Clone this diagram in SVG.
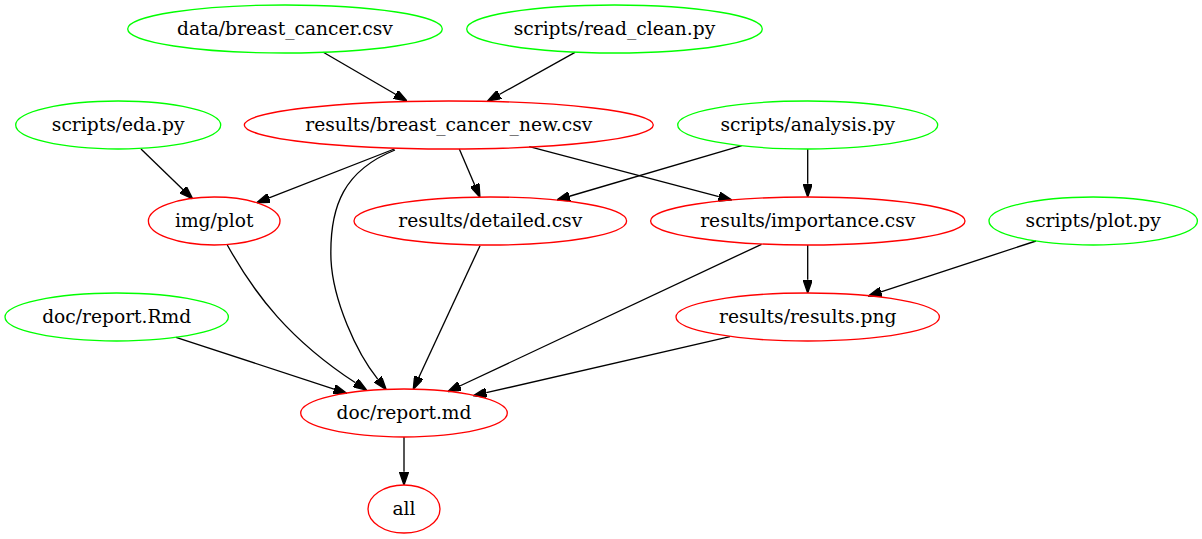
<svg xmlns="http://www.w3.org/2000/svg" width="1202" height="539" viewBox="0 0 1202 539">
<style>
.src ellipse{fill:none;stroke:#00ff00;stroke-width:1.33}
.tgt ellipse{fill:none;stroke:#ff0000;stroke-width:1.33}
text{font-family:"DejaVu Serif","Liberation Serif",serif;font-size:18.67px;fill:#000;text-anchor:middle}
#edges path{fill:none;stroke:#000;stroke-width:1.33;marker-end:url(#ah)}
</style>
<defs>
<marker id="ah" viewBox="0 0 10 7" refX="0" refY="3.5" markerWidth="13.33" markerHeight="9.33" markerUnits="userSpaceOnUse" orient="auto">
<path d="M0,0 L10,3.5 L0,7 z" fill="#000" stroke="#000" stroke-width="1"/>
</marker>
</defs>
<rect width="1202" height="539" fill="#fff"/>
<g id="edges">
<path d="M323.3,52.3 L395.5,94.3"/>
<path d="M575,52.3 L499.3,94.5"/>
<path d="M141,149 L183.1,189.7"/>
<path d="M394.3,149 L269.1,197.9"/>
<path d="M459.3,149 L474.7,185"/>
<path d="M529.3,146.7 L718.8,196.6"/>
<path d="M741.7,145.7 L569.5,196.25"/>
<path d="M807.7,149 L807.7,183.7"/>
<path d="M807.7,245 L807.7,279.7"/>
<path d="M1036,241 L881,291.85"/>
<path d="M176,337.3 L334,389.1"/>
<path d="M480,245.7 L418.9,377.2"/>
<path d="M761.5,244.3 L459.8,386"/>
<path d="M730,336.7 L486.3,392.7"/>
<path d="M404,437 L404,471.7"/>
<path d="M227.3,245 C255,295 290,340 355.5,382.8"/>
<path d="M395,150 C345,170 329,205 331,260 C333,300 356,352 377.9,379.3"/>
</g>
<g id="n_data" class="src"><ellipse cx="285" cy="29" rx="157.3" ry="24"/><text x="285" y="34.6">data/breast_cancer.csv</text></g>
<g id="n_readclean" class="src"><ellipse cx="614.5" cy="29" rx="147.8" ry="24"/><text x="614.5" y="34.6">scripts/read_clean.py</text></g>
<g id="n_eda" class="src"><ellipse cx="118.2" cy="125" rx="102.5" ry="24"/><text x="118.2" y="130.6">scripts/eda.py</text></g>
<g id="n_bcn" class="tgt"><ellipse cx="448.8" cy="125" rx="204.5" ry="24"/><text x="448.8" y="130.6">results/breast_cancer_new.csv</text></g>
<g id="n_analysis" class="src"><ellipse cx="807.7" cy="125" rx="130" ry="24"/><text x="807.7" y="130.6">scripts/analysis.py</text></g>
<g id="n_img" class="tgt"><ellipse cx="214.2" cy="221" rx="65.8" ry="24"/><text x="214.2" y="226.6">img/plot</text></g>
<g id="n_detailed" class="tgt"><ellipse cx="490.3" cy="221" rx="136.3" ry="24"/><text x="490.3" y="226.6">results/detailed.csv</text></g>
<g id="n_importance" class="tgt"><ellipse cx="807.8" cy="221" rx="157.2" ry="24"/><text x="807.8" y="226.6">results/importance.csv</text></g>
<g id="n_plotpy" class="src"><ellipse cx="1093.2" cy="221" rx="104.2" ry="24"/><text x="1093.2" y="226.6">scripts/plot.py</text></g>
<g id="n_rmd" class="src"><ellipse cx="116.7" cy="317" rx="111.7" ry="24"/><text x="116.7" y="322.6">doc/report.Rmd</text></g>
<g id="n_png" class="tgt"><ellipse cx="807.7" cy="317" rx="131.7" ry="24"/><text x="807.7" y="322.6">results/results.png</text></g>
<g id="n_report" class="tgt"><ellipse cx="404" cy="413" rx="103.3" ry="24"/><text x="404" y="418.6">doc/report.md</text></g>
<g id="n_all" class="tgt"><ellipse cx="404" cy="509" rx="36" ry="24"/><text x="404" y="514.6">all</text></g>
</svg>
